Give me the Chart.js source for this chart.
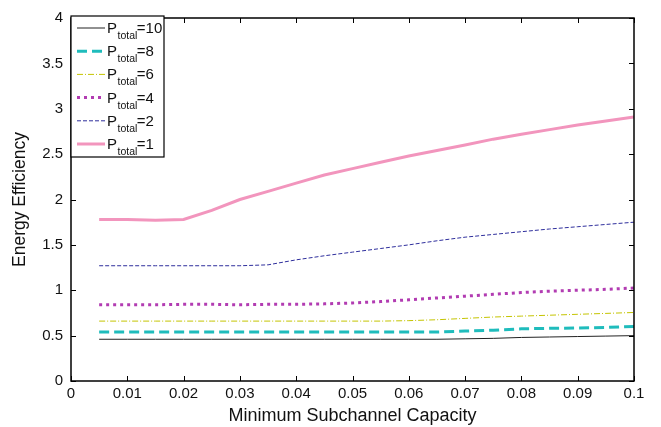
<!DOCTYPE html>
<html>
<head>
<meta charset="utf-8">
<script src="https://cdn.jsdelivr.net/npm/chart.js@4.4.1/dist/chart.umd.min.js"></script>
<style>
  html, body { margin: 0; padding: 0; background: #fff; }
  #wrap { width: 661px; height: 427px; position: relative; }
</style>
</head>
<body>
<div id="wrap"><canvas id="chart" width="661" height="427"></canvas></div>
<script>
// --- data ---
const capacity = [0.005, 0.01, 0.015, 0.02, 0.025, 0.03, 0.035, 0.04, 0.045, 0.05,
                  0.055, 0.06, 0.065, 0.07, 0.075, 0.08, 0.085, 0.09, 0.095, 0.1];
const p10 = [0.46, 0.46, 0.46, 0.46, 0.46, 0.46, 0.46, 0.46, 0.46, 0.46,
             0.46, 0.46, 0.46, 0.465, 0.47, 0.48, 0.485, 0.49, 0.495, 0.50];
const p8  = [0.54, 0.54, 0.54, 0.54, 0.54, 0.54, 0.54, 0.54, 0.54, 0.54,
             0.54, 0.54, 0.54, 0.55, 0.56, 0.575, 0.58, 0.585, 0.59, 0.60];
const p6  = [0.66, 0.66, 0.66, 0.66, 0.66, 0.66, 0.66, 0.66, 0.66, 0.66,
             0.66, 0.665, 0.675, 0.69, 0.705, 0.715, 0.725, 0.735, 0.745, 0.755];
const p4  = [0.84, 0.84, 0.84, 0.845, 0.845, 0.84, 0.845, 0.845, 0.85, 0.86,
             0.875, 0.895, 0.915, 0.935, 0.955, 0.975, 0.99, 1.0, 1.01, 1.025];
const p2  = [1.27, 1.27, 1.27, 1.27, 1.27, 1.27, 1.28, 1.335, 1.38, 1.42,
             1.46, 1.50, 1.545, 1.585, 1.615, 1.645, 1.675, 1.70, 1.725, 1.75];
const p1  = [1.78, 1.78, 1.77, 1.78, 1.88, 2.0, 2.09, 2.18, 2.27, 2.34,
             2.41, 2.48, 2.54, 2.60, 2.665, 2.72, 2.77, 2.82, 2.865, 2.91];
const seriesLabels = ['10', '8', '6', '4', '2', '1'];
const yTicks = [0, 0.5, 1, 1.5, 2, 2.5, 3, 3.5, 4];
const xTicks = [0, 0.01, 0.02, 0.03, 0.04, 0.05, 0.06, 0.07, 0.08, 0.09, 0.1];

const styles = [
    { color: '#222222', width: 1,   dash: [] },
    { color: '#1fbcbc', width: 3,   dash: [10, 5] },
    { color: '#c4c400', width: 1,   dash: [6, 2, 1, 2] },
    { color: '#b23cb2', width: 3,   dash: [3, 4] },
    { color: '#2e2e9c', width: 1,   dash: [4, 2] },
    { color: '#f295bd', width: 3,   dash: [] }
];
const values = [p10, p8, p6, p4, p2, p1];

const FONT = '"Liberation Sans", Arial, sans-serif';

const datasets = values.map((v, i) => ({
    label: 'P_total=' + seriesLabels[i],
    data: v.map((y, j) => ({ x: capacity[j], y: y })),
    borderColor: styles[i].color,
    borderWidth: styles[i].width,
    borderDash: styles[i].dash,
    pointRadius: 0,
    tension: 0,
    fill: false
}));

// box frame, inward ticks and legend with subscripts
const framePlugin = {
    id: 'frame',
    afterDraw(chart) {
        const ctx = chart.ctx;
        const a = chart.chartArea;
        const xs = chart.scales.x, ys = chart.scales.y;
        ctx.save();
        ctx.strokeStyle = '#000';
        ctx.lineWidth = 1;
        ctx.setLineDash([]);
        ctx.beginPath();
        xTicks.forEach(t => {
            const px = Math.round(xs.getPixelForValue(t)) + 0.5;
            ctx.moveTo(px, a.bottom); ctx.lineTo(px, a.bottom - 5);
            ctx.moveTo(px, a.top); ctx.lineTo(px, a.top + 5);
        });
        yTicks.forEach(t => {
            const py = Math.round(ys.getPixelForValue(t)) + 0.5;
            ctx.moveTo(a.left, py); ctx.lineTo(a.left + 5, py);
            ctx.moveTo(a.right, py); ctx.lineTo(a.right - 5, py);
        });
        ctx.stroke();
        ctx.lineWidth = 1.5;
        ctx.strokeRect(a.left, a.top, a.right - a.left, a.bottom - a.top);

        // legend
        const bx = a.left, by = a.top - 2, bw = 93, bh = 141;
        ctx.fillStyle = '#fff';
        ctx.fillRect(bx, by, bw, bh);
        ctx.lineWidth = 1.2;
        ctx.strokeRect(bx, by, bw, bh);
        ctx.textBaseline = 'alphabetic';
        ctx.textAlign = 'left';
        styles.forEach((s, i) => {
            const yy = by + 12 + i * 23.2;
            ctx.strokeStyle = s.color;
            ctx.lineWidth = s.width;
            ctx.setLineDash(s.dash);
            ctx.beginPath();
            ctx.moveTo(bx + 6, yy);
            ctx.lineTo(bx + 34, yy);
            ctx.stroke();
            ctx.setLineDash([]);
            ctx.fillStyle = '#111';
            let tx = bx + 36;
            ctx.font = '15px ' + FONT;
            ctx.fillText('P', tx, yy + 5);
            tx += ctx.measureText('P').width + 0.5;
            ctx.font = '10.5px ' + FONT;
            ctx.fillText('total', tx, yy + 11);
            tx += ctx.measureText('total').width - 0.5;
            ctx.font = '15px ' + FONT;
            ctx.fillText('=' + seriesLabels[i], tx, yy + 5);
        });
        ctx.restore();
    }
};

new Chart(document.getElementById('chart'), {
    type: 'line',
    data: { datasets: datasets },
    options: {
        responsive: false,
        animation: false,
        layout: { padding: { top: 18, right: 27, left: 0, bottom: 0 } },
        plugins: { legend: { display: false }, tooltip: { enabled: false } },
        scales: {
            x: {
                type: 'linear', min: 0, max: 0.1,
                afterBuildTicks: s => { s.ticks = xTicks.map(v => ({ value: v })); },
                afterFit: s => { s.height = 46; },
                grid: { display: false, drawTicks: false },
                border: { display: false },
                ticks: { color: '#111', font: { size: 15, family: FONT }, padding: 4,
                         maxRotation: 0, callback: v => String(v) },
                title: { display: true, text: 'Minimum Subchannel Capacity', color: '#111',
                         font: { size: 18, family: FONT }, padding: { top: 0, bottom: 0 } }
            },
            y: {
                min: 0, max: 4,
                afterBuildTicks: s => { s.ticks = yTicks.map(v => ({ value: v })); },
                afterFit: s => { s.width = 71; },
                grid: { display: false, drawTicks: false },
                border: { display: false },
                ticks: { color: '#111', font: { size: 15, family: FONT }, padding: 8,
                         callback: v => String(v) },
                title: { display: true, text: 'Energy Efficiency', color: '#111',
                         font: { size: 17.5, family: FONT }, padding: { top: 10, bottom: 0 } }
            }
        }
    },
    plugins: [framePlugin]
});
</script>
</body>
</html>
